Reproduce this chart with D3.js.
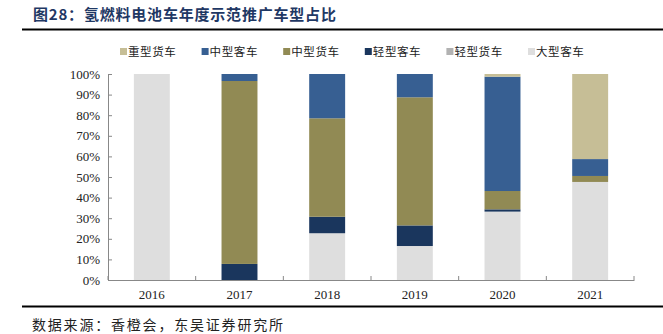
<!DOCTYPE html>
<html>
<head>
<meta charset="utf-8">
<script src="https://cdn.jsdelivr.net/npm/d3@7"></script>
<style>
  body { margin: 0; background: #fff; }
  svg text { font-family: "Liberation Serif", "Noto Sans CJK SC", serif; }
</style>
</head>
<body>
<div class="chart"></div>
<script>
const years = ["2016", "2017", "2018", "2019", "2020", "2021"];
const seriesNames = ["重型货车", "中型客车", "中型货车", "轻型客车", "轻型货车", "大型客车"];
const colors = ["#c6be96", "#375f92", "#918a54", "#1a365d", "#b2b2b2", "#dedede"];
// share of each vehicle type, %
const heavyTruck = [0, 0, 0, 0, 1.3, 41.3];
const mediumBus = [0, 3.4, 21.5, 11.3, 55.5, 8.2];
const mediumTruck = [0, 88.8, 47.8, 62.2, 8.9, 2.9];
const lightBus = [0, 7.8, 8.0, 10.0, 1.1, 0];
const lightTruck = [0, 0, 0, 0, 0, 0];
const bigBus = [100, 0, 22.7, 16.5, 33.2, 47.6];

const valuesBySeries = [heavyTruck, mediumBus, mediumTruck, lightBus, lightTruck, bigBus];
const yTicks = [0, 10, 20, 30, 40, 50, 60, 70, 80, 90, 100];

const width = 663, height = 334;
const plotLeft = 108, plotRight = 634, plotTop = 74, plotBottom = 280;

const svg = d3.select(".chart").append("svg")
  .attr("width", width).attr("height", height);

// title
svg.append("text")
  .attr("x", 33).attr("y", 20)
  .attr("fill", "#1f3864")
  .style("font-family", "'Noto Sans CJK SC'")
  .style("font-weight", "bold")
  .style("font-size", "15px")
  .style("letter-spacing", "0.8px")
  .text("图28：氢燃料电池车年度示范推广车型占比");

svg.append("line").attr("x1", 22).attr("x2", 663).attr("y1", 29.5).attr("y2", 29.5)
  .attr("stroke", "#000").attr("stroke-width", 2);
svg.append("line").attr("x1", 22).attr("x2", 663).attr("y1", 306.5).attr("y2", 306.5)
  .attr("stroke", "#000").attr("stroke-width", 2);

svg.append("text")
  .attr("x", 32).attr("y", 330)
  .attr("fill", "#222")
  .style("font-family", "'Noto Sans CJK SC'")
  .style("font-size", "14px")
  .style("letter-spacing", "1.8px")
  .text("数据来源：香橙会，东吴证券研究所");

// build stack input: bottom-up order is 大型客车 first
const rows = years.map((y, i) => {
  const r = { year: y };
  seriesNames.forEach((s, j) => r[s] = valuesBySeries[j][i]);
  return r;
});
const stackOrder = seriesNames.slice().reverse();
const stacked = d3.stack().keys(stackOrder)(rows);

const x = d3.scaleBand().domain(years).range([plotLeft, plotRight]).paddingInner(0).paddingOuter(0);
const y = d3.scaleLinear().domain([0, 100]).range([plotBottom, plotTop]);
const barW = x.bandwidth() * 0.41;

const g = svg.append("g");
stacked.forEach(layer => {
  const c = colors[seriesNames.indexOf(layer.key)];
  g.selectAll(null).data(layer).enter().append("rect")
    .attr("x", d => x(d.data.year) + (x.bandwidth() - barW) / 2)
    .attr("y", d => y(d[1]))
    .attr("width", barW)
    .attr("height", d => Math.max(0, y(d[0]) - y(d[1])))
    .attr("fill", c);
});

// y axis
const yAxis = d3.axisLeft(y).tickValues(yTicks).tickFormat(d => d + "%")
  .tickSizeInner(-4).tickSizeOuter(0).tickPadding(8);
const ya = svg.append("g").attr("transform", `translate(${plotLeft},0)`).call(yAxis);
ya.select(".domain").attr("stroke", "#888");
ya.selectAll(".tick line").attr("stroke", "#888");
ya.selectAll("text").style("font-size", "13px").attr("fill", "#222")
  .style("font-family", "'Liberation Serif'");

// x axis
const xa = svg.append("g").attr("transform", `translate(0,${plotBottom})`)
  .call(d3.axisBottom(x).tickSize(0).tickPadding(10));
xa.select(".domain").attr("stroke", "#888");
xa.selectAll("text").style("font-size", "13px").attr("fill", "#222")
  .style("font-family", "'Liberation Serif'");
const bounds = years.map(d => x(d)).concat([plotRight]);
xa.selectAll(".bnd").data(bounds).enter().append("line")
  .attr("x1", d => d).attr("x2", d => d).attr("y1", 0).attr("y2", -4)
  .attr("stroke", "#888");

// legend
const lg = svg.append("g");
seriesNames.forEach((s, i) => {
  const lx = 120 + i * 81.6;
  lg.append("rect").attr("x", lx).attr("y", 48).attr("width", 7).attr("height", 7)
    .attr("fill", colors[i]);
  lg.append("text").attr("x", lx + 8).attr("y", 55.5)
    .style("font-family", "'Noto Sans CJK SC'")
    .style("font-size", "11.5px")
    .style("letter-spacing", "0.6px")
    .attr("fill", "#222")
    .text(s);
});
</script>
</body>
</html>
